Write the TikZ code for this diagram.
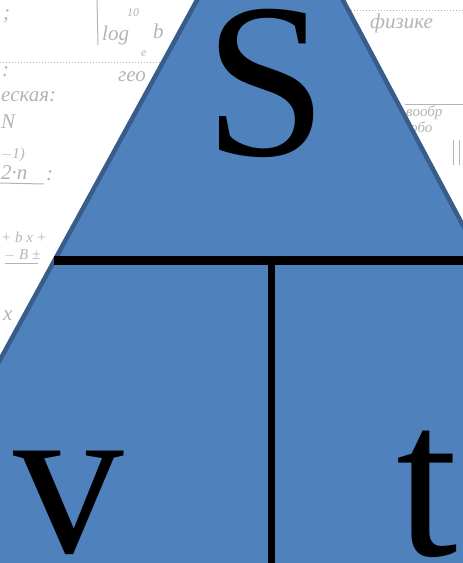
\documentclass[tikz,border=0pt]{standalone}
\usepackage{fontspec}
\setmainfont{Liberation Serif}
\usetikzlibrary{calc}
\definecolor{triFill}{HTML}{4F81BD}
\definecolor{triEdge}{HTML}{385D8A}
\definecolor{scan}{HTML}{B4B4B4}
\begin{document}
\begin{tikzpicture}[x=1pt,y=-1pt,
  letter/.style={inner sep=0pt,anchor=base,font=\fontsize{221}{221}\selectfont},
  hand/.style={inner sep=0pt,anchor=base west,text=scan,font=\itshape\fontsize{21}{21}\selectfont},
  handmid/.style={hand,font=\itshape\fontsize{15}{15}\selectfont},
  handsmall/.style={hand,font=\itshape\fontsize{12}{12}\selectfont},
  rule/.style={scan,line width=1pt},
  divider/.style={black}]
\useasboundingbox (0,0) rectangle (463,563);
\clip (0,0) rectangle (463,563);
\fill[white] (0,0) rectangle (463,563);
% faint scanned notes
\draw[rule] (97,0) -- (98,45);
\draw[rule,dotted] (0,62) -- (162,62);
\draw[rule,dotted] (345,10) -- (463,10);
\draw[rule] (405,104) -- (463,104);
\draw[rule] (453,140) -- (453,165);
\draw[rule] (459,140) -- (459,165);
\node[hand] (n1) at (102,40) {log};
\node[handsmall] (n2) at (141,56) {e};
\node[hand] (n3) at (153,38) {b};
\node[handsmall] (n4) at (127,16) {10};
\node[hand] (n5) at (118,81) {гео};
\node[hand] (n6) at (1,101) {еская:};
\node[hand] (n7) at (3,19) {;};
\node[hand] (n8) at (2,76) {:};
\node[hand] (n9) at (1,128) {N};
\node[handmid] (n10) at (1,158) {$-$1)};
\node[hand] (n11) at (1,179) {2·n};
\node[hand] (n12) at (46,180) {:};
\draw[rule] (0,183) -- (44,184);
\node[handmid] (n13) at (1,242) {+ b x +};
\node[handmid] (n14) at (4,259) {$-$ B ±};
\draw[rule] (5,263) -- (38,263);
\node[hand] (n15) at (3,320) {x};
\node[hand] (n16) at (370,28) {физике};
\node[handmid] (n17) at (406,116) {вообр};
\node[handmid] (n18) at (410,132) {обо};
% triangle
\coordinate (A) at (271,-135);
\coordinate (B) at (-241,800);
\coordinate (C) at (769,800);
\filldraw[fill=triFill,draw=triEdge,line width=4.5pt,line join=miter] (A) -- (B) -- (C) -- cycle;
\coordinate (L) at ($(A)!0.423!(B)$);
\coordinate (R) at ($(A)!0.423!(C)$);
\coordinate (M) at (271.5,260.5);
\coordinate (D) at (271.5,800);
\draw[divider,line width=8.5pt] (L) -- (R);
\draw[divider,line width=7pt] (M) -- (D);
% letters
\node[letter] (S) at (265.5,155) {S};
\node[letter] (v) at (68.5,552) {v};
\node[letter] (t) at (427,555) {t};
\end{tikzpicture}
\end{document}
